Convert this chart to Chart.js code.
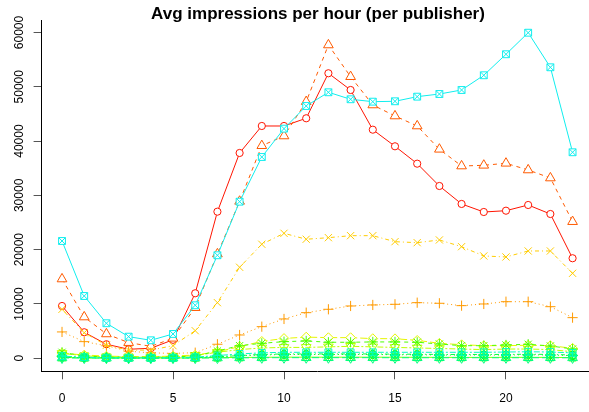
<!DOCTYPE html>
<html>
<head>
<meta charset="utf-8">
<title>Avg impressions per hour (per publisher)</title>
<script src="https://cdn.jsdelivr.net/npm/chart.js@4.4.1/dist/chart.umd.min.js"></script>
<style>
  html, body { margin: 0; padding: 0; background: #fff; overflow: hidden; width: 589px; height: 412px; }
  #wrap { position: absolute; left: 0; top: 0; width: 636px; height: 412px; }
</style>
</head>
<body>
<div id="wrap"><canvas id="chart" width="636" height="412"></canvas></div>
<script>
// Hours of the day and axis ticks
const hours  = [0,1,2,3,4,5,6,7,8,9,10,11,12,13,14,15,16,17,18,19,20,21,22,23];
const xTicks = [0, 5, 10, 15, 20];
const yTicks = [0, 10000, 20000, 30000, 40000, 50000, 60000];

// Average impressions per hour, one array per publisher
const pub01 = [9630, 4790, 2580, 1660, 1840, 3400, 11970, 27000, 37810, 42780, 42780, 44200, 52490, 49410, 42100, 39040, 35840, 31730, 28420, 26940, 27180, 28230, 26570, 18420];
const pub02 = [14600, 7600, 4480, 2880, 2200, 3680, 9320, 19210, 28900, 39150, 40940, 47260, 57700, 51860, 46650, 44620, 42780, 38490, 35410, 35540, 35910, 34680, 33200, 25160];
const pub03 = [4850, 3060, 2300, 1300, 1000, 900, 1030, 2580, 4290, 5820, 7240, 8400, 9020, 9630, 9820, 9940, 10240, 10130, 9690, 10000, 10420, 10420, 9500, 7480];
const pub04 = [9020, 4700, 2400, 1500, 1500, 2320, 5080, 10240, 16760, 21000, 23020, 21920, 22210, 22580, 22580, 21470, 21290, 21790, 20550, 18840, 18660, 19760, 19760, 15650];
const pub05 = [950, 600, 400, 300, 300, 400, 600, 1200, 2140, 3110, 3650, 3900, 3800, 3800, 3620, 3600, 3300, 2760, 2500, 2320, 2320, 2400, 2320, 1840];
const pub06 = [900, 450, 250, 200, 180, 250, 500, 1100, 1600, 1900, 2000, 2000, 2100, 2200, 2100, 2000, 1900, 1800, 1700, 1600, 1700, 1700, 1600, 1200];
const pub07 = [150, 80, 50, 40, 40, 50, 80, 120, 150, 180, 200, 200, 200, 200, 200, 190, 180, 170, 160, 160, 170, 170, 160, 130];
const pub08 = [1100, 400, 250, 200, 200, 250, 400, 1340, 2320, 2760, 3060, 3190, 2950, 2950, 3010, 3010, 2950, 2630, 2320, 2320, 2450, 2580, 2270, 1710];
const pub09 = [300, 150, 100, 80, 80, 100, 150, 300, 500, 600, 700, 700, 700, 700, 700, 650, 650, 600, 600, 600, 600, 650, 600, 500];
const pub10 = [200, 100, 60, 50, 50, 60, 100, 250, 500, 700, 800, 800, 800, 800, 800, 750, 750, 700, 700, 700, 700, 750, 700, 600];
const pub11 = [60, 40, 30, 20, 20, 30, 40, 60, 80, 100, 110, 110, 110, 110, 110, 100, 100, 100, 100, 100, 100, 100, 100, 80];
const pub12 = [400, 200, 100, 80, 80, 100, 200, 500, 800, 1000, 1100, 1100, 1100, 1100, 1100, 1100, 1100, 1100, 1100, 1100, 1150, 1200, 1150, 1000];
const pub13 = [21600, 11470, 6450, 3980, 3310, 4480, 9760, 18970, 28840, 37070, 42290, 46460, 48990, 47700, 47260, 47330, 48180, 48670, 49410, 52120, 55990, 59960, 53590, 37940];

const publishers = [pub01, pub02, pub03, pub04, pub05, pub06, pub07, pub08, pub09, pub10, pub11, pub12, pub13];

// Line types in the usual plotting cycle
const DASH = {
  solid: [], dashed: [4, 4], dotted: [1, 3], dotdash: [1, 3, 4, 3], longdash: [7, 3], twodash: [2, 2, 6, 2]
};

// Look of each publisher's line
const looks = [
  { color: '#FF1400', shape: 'circle',      dash: DASH.solid,    fill: true  },
  { color: '#FF5A00', shape: 'triangle',    dash: DASH.dashed,   fill: true  },
  { color: '#FF9A00', shape: 'plus',        dash: DASH.dotted,   fill: false },
  { color: '#FFCC00', shape: 'cross',       dash: DASH.dotdash,  fill: false },
  { color: '#E6F500', shape: 'diamond',     dash: DASH.longdash, fill: true  },
  { color: '#BFFF00', shape: 'triDown',     dash: DASH.twodash,  fill: false },
  { color: '#80FF00', shape: 'boxCross',    dash: DASH.solid,    fill: false },
  { color: '#4CFF00', shape: 'asterisk',    dash: DASH.dashed,   fill: false },
  { color: '#00FF00', shape: 'diamondPlus', dash: DASH.dotted,   fill: false },
  { color: '#00FF40', shape: 'circlePlus',  dash: DASH.dotdash,  fill: false },
  { color: '#00FF80', shape: 'star6',       dash: DASH.longdash, fill: false },
  { color: '#00FFBF', shape: 'boxPlus',     dash: DASH.twodash,  fill: false },
  { color: '#10EEEE', shape: 'boxCross',    dash: DASH.solid,    fill: true  }
];

// Open plotting symbols, drawn as vector paths around a point
function drawSymbol(g, shape, x, y, color, fill) {
  const u = 3.6;
  g.save();
  g.translate(x, y);
  g.strokeStyle = color;
  g.fillStyle = '#fff';
  g.lineWidth = 1;
  g.setLineDash([]);
  const line = (x1, y1, x2, y2) => { g.beginPath(); g.moveTo(x1, y1); g.lineTo(x2, y2); g.stroke(); };
  const closed = (pts) => {
    g.beginPath();
    pts.forEach((p, i) => i ? g.lineTo(p[0], p[1]) : g.moveTo(p[0], p[1]));
    g.closePath();
    if (fill) g.fill();
    g.stroke();
  };
  const tri = (s) => {
    const r = 1.555 * u;
    closed([[0, -s * r], [0.866 * r, s * r / 2], [-0.866 * r, s * r / 2]]);
  };
  switch (shape) {
    case 'circle':
      g.beginPath(); g.arc(0, 0, u, 0, Math.PI * 2);
      if (fill) g.fill();
      g.stroke(); break;
    case 'triangle': tri(1); break;
    case 'triDown': tri(-1); break;
    case 'plus': { const h = 1.414 * u; line(-h, 0, h, 0); line(0, -h, 0, h); break; }
    case 'cross': line(-u, -u, u, u); line(-u, u, u, -u); break;
    case 'diamond': { const h = 1.35 * u; closed([[0, -h], [h, 0], [0, h], [-h, 0]]); break; }
    case 'boxCross': { const h = 0.95 * u; closed([[-h, -h], [h, -h], [h, h], [-h, h]]); line(-h, -h, h, h); line(-h, h, h, -h); break; }
    case 'boxPlus': { const h = 0.95 * u; closed([[-h, -h], [h, -h], [h, h], [-h, h]]); line(-h, 0, h, 0); line(0, -h, 0, h); break; }
    case 'asterisk': { line(-u, -u, u, u); line(-u, u, u, -u); const h = 1.414 * u; line(-h, 0, h, 0); line(0, -h, 0, h); break; }
    case 'diamondPlus': { const h = 1.35 * u; closed([[0, -h], [h, 0], [0, h], [-h, 0]]); line(-h, 0, h, 0); line(0, -h, 0, h); break; }
    case 'circlePlus': g.beginPath(); g.arc(0, 0, u, 0, Math.PI * 2); g.stroke(); line(-u, 0, u, 0); line(0, -u, 0, u); break;
    case 'star6': tri(1); tri(-1); break;
  }
  g.restore();
}

// Draws each series' symbols right after its line, at the points placed by the scales
const symbolPlugin = {
  id: 'symbols',
  afterDatasetDraw(chart, args) {
    const look = looks[args.index];
    const ctx = chart.ctx;
    const a = chart.chartArea;
    ctx.save();
    ctx.beginPath();
    ctx.rect(a.left, a.top - 8, a.right - a.left + 8, a.bottom - a.top + 8);
    ctx.clip();
    args.meta.data.forEach(pt => drawSymbol(ctx, look.shape, pt.x, pt.y, look.color, look.fill));
    ctx.restore();
  }
};

// Centre the title over the full plot width, including the part past the window edge
const titleSpan = {
  id: 'titleSpan',
  afterLayout(chart) {
    const t = chart.titleBlock;
    if (t) { t.left = 0; t.right = chart.width; t.width = chart.width; }
  }
};

const datasets = publishers.map((vals, i) => ({
  label: 'publisher ' + (i + 1),
  data: hours.map((h, k) => ({ x: h, y: vals[k] })),
  borderColor: looks[i].color,
  borderWidth: 1,
  borderDash: looks[i].dash,
  pointRadius: 0,
  pointHoverRadius: 0,
  tension: 0,
  fill: false,
  order: publishers.length - i
}));

Chart.defaults.font.family = '"Liberation Sans", Arial, Helvetica, sans-serif';
Chart.defaults.color = '#000';

new Chart(document.getElementById('chart'), {
  type: 'line',
  data: { datasets },
  plugins: [symbolPlugin, titleSpan],
  options: {
    responsive: false,
    animation: false,
    devicePixelRatio: 1,
    layout: { padding: { left: 0, right: 43, top: 0, bottom: 0 } },
    plugins: {
      legend: { display: false },
      tooltip: { enabled: false },
      title: {
        display: true,
        text: 'Avg impressions per hour (per publisher)',
        color: '#000',
        font: { size: 17, weight: 'bold', lineHeight: 1 },
        padding: { top: 6, bottom: -3 }
      }
    },
    scales: {
      x: {
        type: 'linear',
        min: -0.92,
        max: 23.92,
        afterBuildTicks: (s) => { s.ticks = xTicks.map(v => ({ value: v })); },
        afterFit: (s) => { s.height = 40.7; s.paddingLeft = 0; s.paddingRight = 0; },
        grid: { drawOnChartArea: false, drawTicks: true, tickLength: 8, tickColor: '#555', tickWidth: 1 },
        border: { display: true, color: '#000', width: 1 },
        ticks: { autoSkip: false, maxRotation: 0, minRotation: 0, padding: 12, font: { size: 12 }, color: '#000' }
      },
      y: {
        type: 'linear',
        min: -2400,
        max: 62300,
        afterBuildTicks: (s) => { s.ticks = yTicks.map(v => ({ value: v })); },
        afterFit: (s) => { s.width = 41.6; s.paddingTop = 0; s.paddingBottom = 0; },
        grid: { drawOnChartArea: false, drawTicks: true, tickLength: 8, tickColor: '#555', tickWidth: 1 },
        border: { display: true, color: '#000', width: 1 },
        ticks: {
          autoSkip: false, minRotation: 90, maxRotation: 90, crossAlign: 'center', padding: -3,
          font: { size: 12 }, color: '#000',
          callback: (v) => String(v)
        }
      }
    }
  }
});
</script>
</body>
</html>
